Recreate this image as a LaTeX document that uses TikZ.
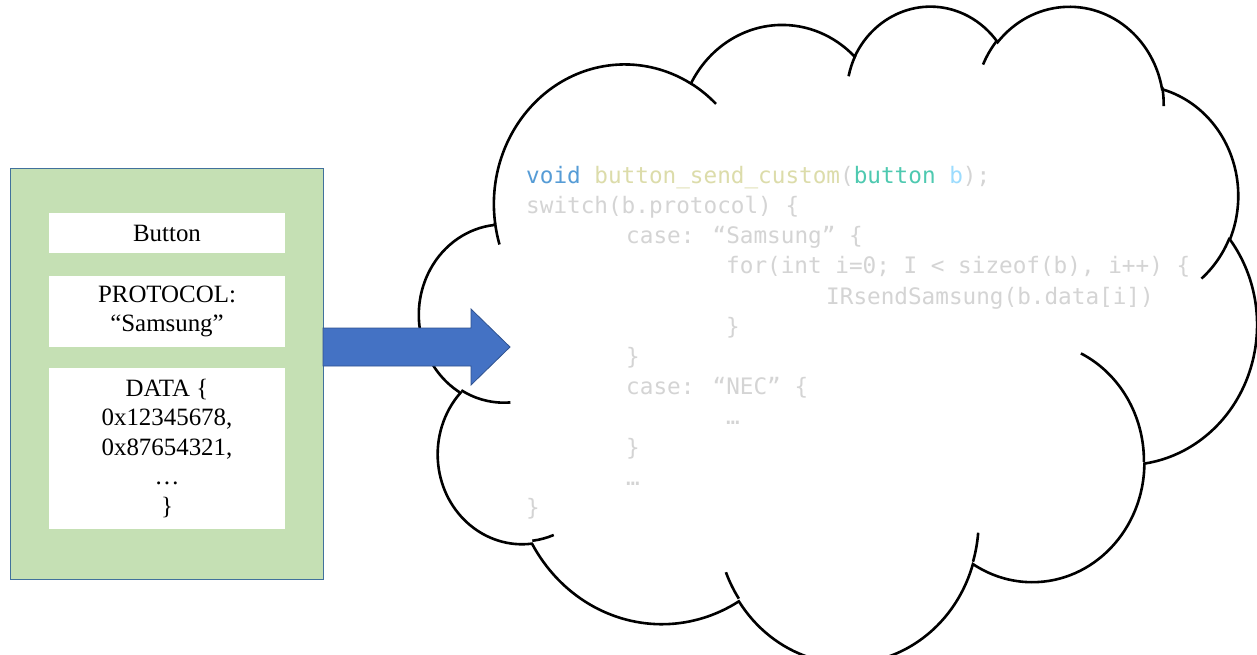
\documentclass[tikz,border=0pt]{standalone}
\usepackage{fontspec}
\setmainfont{Liberation Serif}
\newfontfamily\codefont{DejaVu Sans Mono}
\definecolor{cardfill}{HTML}{C5E0B4}
\definecolor{cardline}{HTML}{41719C}
\definecolor{arrowfill}{HTML}{4472C4}
\definecolor{arrowline}{HTML}{2F528F}
\definecolor{codegrey}{HTML}{D4D4D4}
\definecolor{kwblue}{HTML}{569CD6}
\definecolor{fnyellow}{HTML}{DCDCAA}
\definecolor{typeteal}{HTML}{4EC9B0}
\definecolor{varblue}{HTML}{9CDCFE}
\begin{document}
\begin{tikzpicture}[x=1pt,y=-1pt,
  declare function={vpa(\angA,\rX,\rY)=\angA+(atan2(\rX*sin(\angA),\rY*cos(\angA))-\angA)-360*round((atan2(\rX*sin(\angA),\rY*cos(\angA))-\angA)/360);},
  ooarc/.style n args={4}{insert path={arc[x radius=#1,y radius=#2,start angle={0-vpa(#3,#1,#2)},end angle={0-vpa(#4,#1,#2)}]}},
  cloudline/.style={draw=black,line width=2.6pt},
  card/.style={draw=cardline,line width=1pt,fill=cardfill,inner sep=0pt},
  field/.style={fill=white,inner sep=0pt,minimum width=236pt,align=center,font=\fontsize{24.9}{29.5}\selectfont},
  code/.style={anchor=base west,inner sep=0pt,text=codegrey,font=\codefont\fontsize{22.67}{30}\selectfont},
  blockarrow/.style={fill=arrowfill,draw=arrowline,line width=0.8pt,line join=miter}]
\useasboundingbox (0,0) rectangle (1257,655);

% cloud
\begin{scope}[shift={(419.5,4.5)},x=19.38pt,y=15.2pt]
\path[cloudline,fill=white] (3.900,-14.370)
  [ooarc={6.753}{9.190}{-190.487483}{-66.70695}]
  [ooarc={5.333}{7.267}{-144.102383}{-54.15715}]
  [ooarc={4.365}{5.945}{-145.807917}{-46.0849}]
  [ooarc={4.857}{6.595}{-130.986067}{-13.744334}]
  [ooarc={5.333}{7.273}{-78.708883}{30.318034}]
  [ooarc={6.775}{9.220}{-46.26725}{84.00175}]
  [ooarc={5.785}{7.867}{0.625017}{114.65835}]
  [ooarc={6.752}{9.215}{22.4516}{137.62415}]
  [ooarc={7.720}{10.543}{66.242633}{141.95365}]
  [ooarc={4.360}{5.918}{-274.942083}{-128.206516}]
  [ooarc={4.345}{5.945}{-246.8285}{-94.30965}] -- cycle;
\path[cloudline]
  (4.693,-26.177) [ooarc={4.345}{5.945}{86.742}{113.1715}]
  (6.928,-34.899) [ooarc={4.360}{5.918}{73.610467}{85.057934}]
  (16.478,-39.090) [ooarc={6.752}{9.215}{137.62415}{151.70525}]
  (28.827,-34.751) [ooarc={6.752}{9.215}{6.453267}{22.451617}]
  (34.129,-22.954) [ooarc={5.785}{7.867}{-70.29235}{0.625017}]
  (41.798,-15.354) [ooarc={5.333}{7.273}{30.318033}{58.069533}]
  (38.324,-5.426) [ooarc={4.857}{6.595}{-13.744333}{1.114567}]
  (29.078,-3.952) [ooarc={4.857}{6.595}{-149.18145}{-130.986083}]
  (22.141,-4.720) [ooarc={4.365}{5.945}{-163.494267}{-145.807917}]
  (14.000,-5.192) [ooarc={6.753}{9.190}{-66.70695}{-54.3876}]
  (4.127,-15.789) [ooarc={6.753}{9.190}{157.65435}{169.512517}];
\end{scope}

% left card
\node[card,minimum width=313pt,minimum height=410pt] (cardbox) at (166.5,374) {};
\node[field,minimum height=40pt] (name) at (167,233) {Button};
\node[field,minimum height=71pt] (proto) at (167,311.5) {PROTOCOL:\\“Samsung”};
\node[field,minimum height=161pt] (data) at (167,448.5) {DATA \{\\0x12345678,\\0x87654321,\\…\\\}};

% block arrow
\path[blockarrow] (323,328) -- (471,328) -- (471,309) -- (510,347) -- (471,385) -- (471,366) -- (323,366) -- cycle;

% code
\node[code] (l1) at (526,183.3) {\textcolor{kwblue}{void} \textcolor{fnyellow}{button\_send\_custom}(\textcolor{typeteal}{button} \textcolor{varblue}{b});};
\node[code] (l2) at (526,213.5) {switch(b.protocol) \{};
\node[code] (l3) at (626,243.7) {case: “Samsung” \{};
\node[code] (l4) at (726,273.9) {for(int i=0; I < sizeof(b), i++) \{};
\node[code] (l5) at (826,304.1) {IRsendSamsung(b.data[i])};
\node[code] (l6) at (726,334.3) {\}};
\node[code] (l7) at (626,364.5) {\}};
\node[code] (l8) at (626,394.7) {case: “NEC” \{};
\node[code] (l9) at (726,424.9) {…};
\node[code] (l10) at (626,455.1) {\}};
\node[code] (l11) at (626,485.3) {…};
\node[code] (l12) at (526,515.5) {\}};
\end{tikzpicture}
\end{document}
